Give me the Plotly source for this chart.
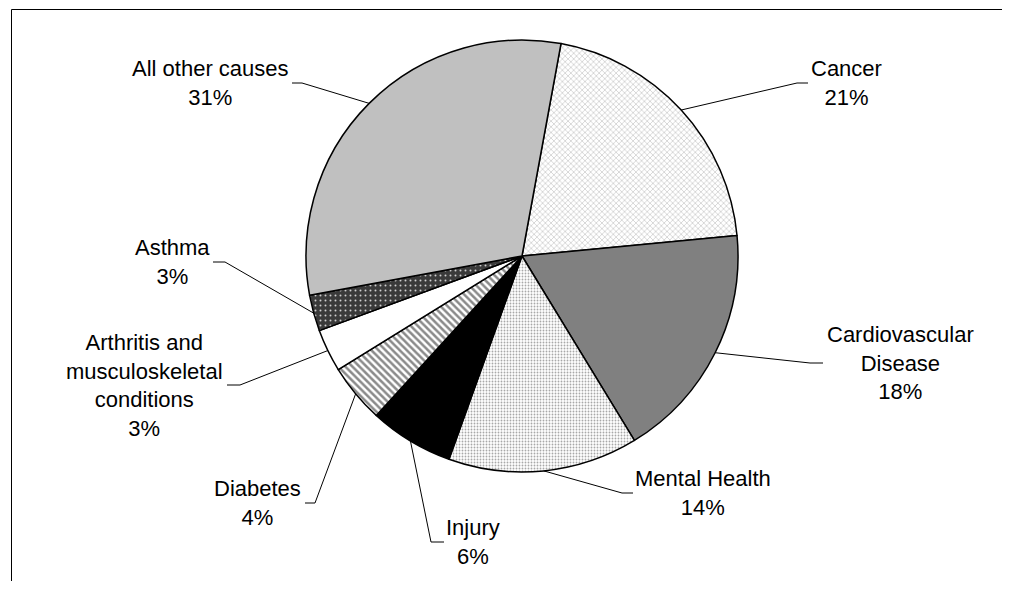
import math
import plotly.graph_objects as go

# ---------------- data ----------------
causes = ["Cancer", "Cardiovascular Disease", "Mental Health", "Injury", "Diabetes",
          "Arthritis and musculoskeletal conditions", "Asthma", "All other causes"]
label_lines = ["Cancer", "Cardiovascular<br>Disease", "Mental Health", "Injury", "Diabetes",
               "Arthritis and<br>musculoskeletal<br>conditions", "Asthma", "All other causes"]
shares = [20.6, 17.8, 14.2, 6.3, 4.4, 3.2, 2.7, 30.8]

# ---------------- styles ----------------
base_colors = ["#ffffff", "#808080", "#ffffff", "#000000", "#ffffff", "#ffffff", "#404040", "#c0c0c0"]
pat_shapes = ["x", "", ".", "", "\\", "", ".", ""]
pat_fg = ["#c4c4c4", "#808080", "#a8a8a8", "#000000", "#8a8a8a", "#ffffff", "#cfcfcf", "#c0c0c0"]
pat_bg = ["#ffffff", "#808080", "#ffffff", "#000000", "#ffffff", "#ffffff", "#3a3a3a", "#c0c0c0"]
pat_size = [4, 6, 3, 6, 5, 6, 5, 6]
pat_sol = [0.3, 0.3, 0.3, 0.3, 0.5, 0.3, 0.12, 0.3]

# label layout (page pixel positions: label centre, leader bend x, leader end x)
lab_cx = [846.5, 900, 702.5, 473, 257.5, 144.5, 172.7, 210]
lab_cy = [83, 363, 493, 542, 503, 385, 262, 83]
bend_x = [797, 810, 622, 431, 315, 240, 225, 302]
end_x = [808, 823, 633, 444, 305, 227, 213, 292]

OFF = 8                         # page margin around the figure
W, H = 1010 - 2 * OFF, 589 - 2 * OFF
CX, CY, R = 522, 256, 216       # pie centre / radius in page pixels
START = 10.4                    # degrees clockwise from 12 o'clock

total = sum(shares)
pcts = [f"{round(v / total * 100):.0f}%" for v in shares]


def px(x):
    return (x - OFF) / W


def py(y):
    return 1 - (y - OFF) / H


fig = go.Figure(go.Pie(
    labels=causes,
    values=shares,
    sort=False,
    direction="clockwise",
    rotation=START,
    textinfo="none",
    hoverinfo="label+percent",
    marker=dict(
        colors=base_colors,
        line=dict(color="#000000", width=1.5),
        pattern=dict(shape=pat_shapes, fgcolor=pat_fg, bgcolor=pat_bg,
                     size=pat_size, solidity=pat_sol, fillmode="replace"),
    ),
    domain=dict(x=[px(CX - R), px(CX + R)], y=[py(CY + R), py(CY - R)]),
    showlegend=False,
))

shapes = []
annotations = []
cum = 0.0
for i, v in enumerate(shares):
    mid = START + (cum + v / 2) / total * 360.0
    cum += v
    a = math.radians(mid)
    sx = CX + R * math.sin(a)
    sy = CY - R * math.cos(a)
    shapes.append(dict(type="line", xref="paper", yref="paper",
                       x0=px(sx), y0=py(sy), x1=px(bend_x[i]), y1=py(lab_cy[i]),
                       line=dict(color="#000000", width=1)))
    shapes.append(dict(type="line", xref="paper", yref="paper",
                       x0=px(bend_x[i]), y0=py(lab_cy[i]), x1=px(end_x[i]), y1=py(lab_cy[i]),
                       line=dict(color="#000000", width=1)))
    annotations.append(dict(text=label_lines[i] + "<br>" + pcts[i],
                            x=px(lab_cx[i]), y=py(lab_cy[i]), xref="paper", yref="paper",
                            xanchor="center", yanchor="middle", showarrow=False, align="center",
                            font=dict(family="Liberation Sans, Arial, sans-serif", size=22,
                                      color="#000000")))

# chart-area frame (only top and left edges fall inside the picture)
shapes.append(dict(type="line", xref="paper", yref="paper",
                   x0=px(11.5), y0=py(9.5), x1=1.0, y1=py(9.5),
                   line=dict(color="#000000", width=1)))
shapes.append(dict(type="line", xref="paper", yref="paper",
                   x0=px(11.5), y0=py(9.5), x1=px(11.5), y1=0.0,
                   line=dict(color="#000000", width=1)))

fig.update_layout(
    width=W, height=H,
    margin=dict(l=0, r=0, t=0, b=0),
    paper_bgcolor="#ffffff",
    plot_bgcolor="#ffffff",
    shapes=shapes,
    annotations=annotations,
    font=dict(family="Liberation Sans, Arial, sans-serif", size=22, color="#000000"),
)

fig.write_html("out.html")
